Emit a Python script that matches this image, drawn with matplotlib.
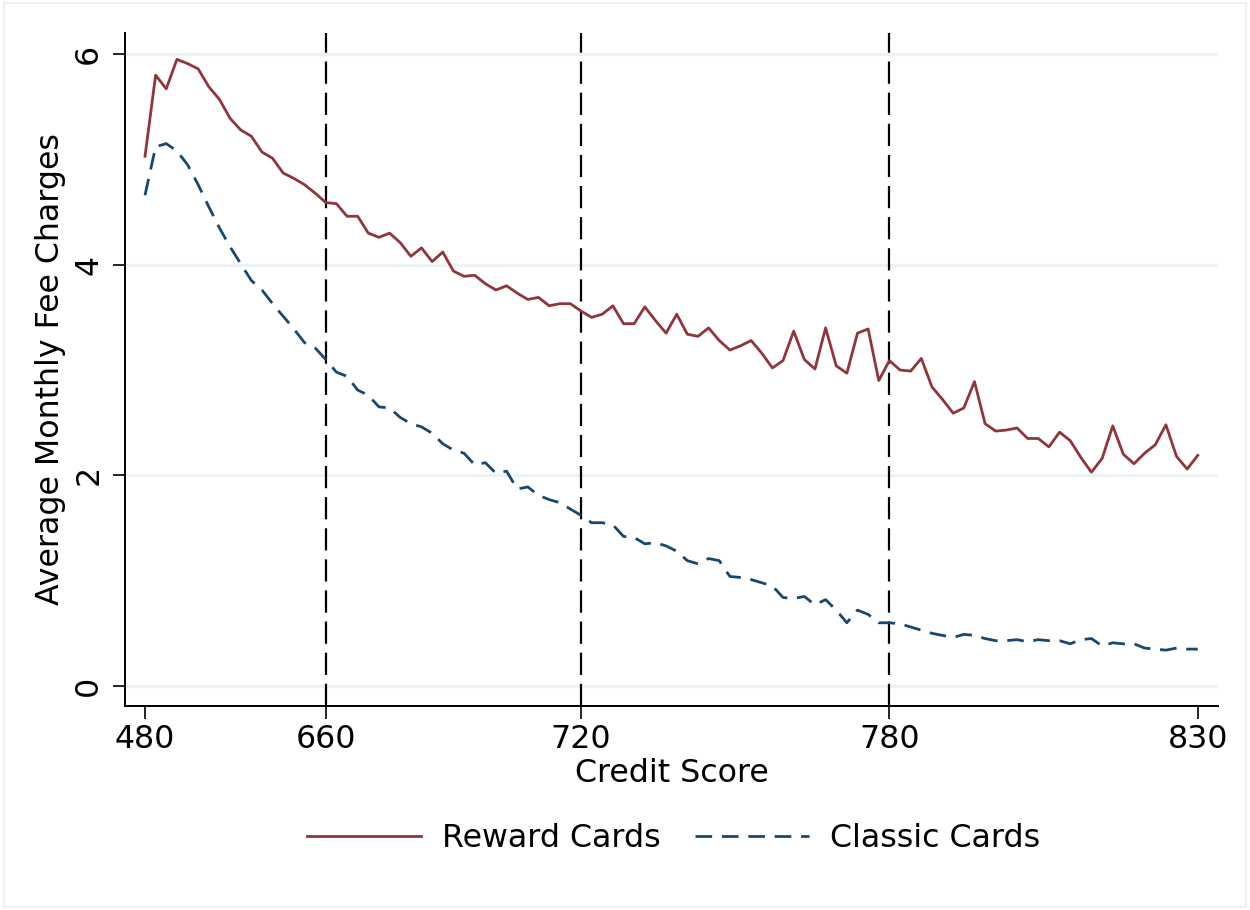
import numpy as np
import matplotlib
matplotlib.use('Agg')
import matplotlib.pyplot as plt
from matplotlib.patches import Rectangle

# Average monthly fee by credit score bin (100 bins)
reward_cards = [5.03, 5.80, 5.67, 5.95, 5.91, 5.86, 5.69, 5.57, 5.39, 5.28,
                5.22, 5.07, 5.01, 4.87, 4.82, 4.76, 4.68, 4.59, 4.58, 4.46,
                4.46, 4.30, 4.26, 4.30, 4.21, 4.08, 4.16, 4.03, 4.12, 3.94,
                3.89, 3.90, 3.82, 3.76, 3.80, 3.73, 3.67, 3.69, 3.61, 3.63,
                3.63, 3.56, 3.50, 3.53, 3.61, 3.44, 3.44, 3.60, 3.47, 3.35,
                3.53, 3.34, 3.32, 3.40, 3.28, 3.19, 3.23, 3.28, 3.16, 3.02,
                3.09, 3.37, 3.10, 3.01, 3.40, 3.04, 2.97, 3.35, 3.39, 2.90,
                3.09, 3.00, 2.99, 3.11, 2.84, 2.72, 2.59, 2.64, 2.89, 2.49,
                2.42, 2.43, 2.45, 2.35, 2.35, 2.27, 2.41, 2.33, 2.17, 2.03,
                2.16, 2.47, 2.20, 2.11, 2.21, 2.29, 2.48, 2.18, 2.06, 2.19]

classic_cards = [4.66, 5.12, 5.15, 5.08, 4.95, 4.76, 4.55, 4.35, 4.17, 4.01,
                 3.85, 3.76, 3.63, 3.51, 3.39, 3.26, 3.21, 3.10, 2.98, 2.94,
                 2.81, 2.76, 2.65, 2.64, 2.55, 2.49, 2.46, 2.40, 2.30, 2.24,
                 2.21, 2.10, 2.12, 2.02, 2.04, 1.87, 1.89, 1.81, 1.77, 1.74,
                 1.68, 1.62, 1.55, 1.55, 1.53, 1.42, 1.41, 1.35, 1.36, 1.33,
                 1.28, 1.19, 1.16, 1.21, 1.19, 1.04, 1.03, 1.01, 0.98, 0.95,
                 0.84, 0.83, 0.85, 0.77, 0.82, 0.72, 0.60, 0.72, 0.68, 0.60,
                 0.60, 0.59, 0.56, 0.53, 0.50, 0.48, 0.46, 0.49, 0.48, 0.45,
                 0.43, 0.43, 0.44, 0.42, 0.44, 0.43, 0.43, 0.40, 0.44, 0.45,
                 0.38, 0.41, 0.40, 0.40, 0.36, 0.35, 0.34, 0.36, 0.35, 0.35]

# bin index of each labelled score
tick_pos = [0, 17, 41, 70, 99]
tick_labels = ['480', '660', '720', '780', '830']
cutoffs = [17, 41, 70]   # 660, 720, 780
y_ticks = [0, 2, 4, 6]

maroon = '#90353b'
navy = '#1a476f'
grid_col = '#eaf2f3'

plt.rcParams['font.family'] = 'DejaVu Sans'
plt.rcParams['font.size'] = 22.8

fig = plt.figure(figsize=(12.5, 9.1), dpi=100)
ax = fig.add_axes([0.1, 0.2242, 0.8744, 0.7395])

x = np.arange(len(reward_cards))

# grid lines
for yv in y_ticks:
    ax.axhline(yv, color=grid_col, lw=2.2, zorder=0)

# cutoff lines
for c in cutoffs:
    ax.axvline(c, color='black', lw=1.6, linestyle=(0, (10, 4)), zorder=1)

ax.plot(x, reward_cards, color=maroon, lw=2.0, label='Reward Cards', zorder=3)
ax.plot(x, classic_cards, color=navy, lw=2.0, linestyle=(0, (6, 3.5)),
        label='Classic Cards', zorder=3)

ax.set_xlim(-1.88, 100.9)
ax.set_ylim(-0.19, 6.2)

ax.set_xticks(tick_pos)
ax.set_xticklabels(tick_labels)
ax.set_yticks(y_ticks)
ax.set_yticklabels([str(v) for v in y_ticks], rotation=90, va='center')
ax.tick_params(axis='both', direction='out', length=9, width=1.2, color='black')
ax.tick_params(axis='x', pad=4)
ax.tick_params(axis='y', pad=6)

for s in ['top', 'right']:
    ax.spines[s].set_visible(False)
for s in ['left', 'bottom']:
    ax.spines[s].set_linewidth(1.4)

ax.set_xlabel('Credit Score', labelpad=2)
ax.set_ylabel('Average Monthly Fee Charges', labelpad=5)

fig.legend(loc='center', bbox_to_anchor=(0.539, 0.079), ncol=2, frameon=False,
           handlelength=3.6, handletextpad=0.65, columnspacing=1.1)

# light outer frame like the graph region
fig.patches.append(Rectangle((0.003, 0.003), 0.994, 0.994, transform=fig.transFigure,
                             fill=False, edgecolor=grid_col, lw=1.5))

fig.savefig('out.png', dpi=100)
